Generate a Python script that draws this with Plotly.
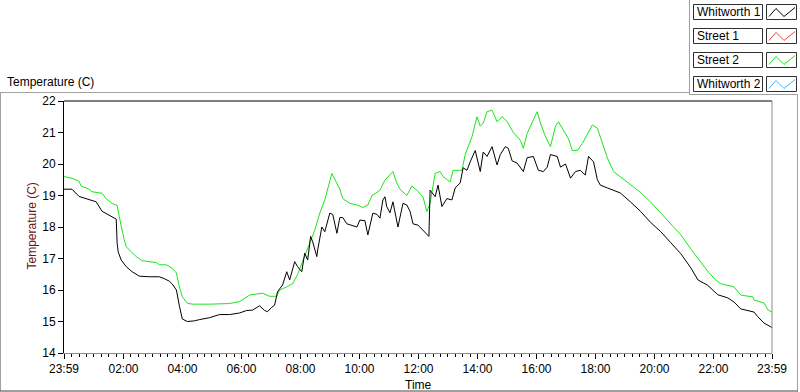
import plotly.graph_objects as go

# ---------------- data (hours elapsed since 23:59 of previous day) ----------------
whitworth1_time_h = [0.00, 0.27, 0.51, 0.85, 1.09, 1.29, 1.53, 1.70, 1.77, 1.80, 1.84, 1.94, 2.11, 2.31, 2.55,
                     2.89, 3.23, 3.40, 3.57, 3.67, 3.81, 3.91, 4.01, 4.18, 4.42, 4.59, 4.93, 5.27, 5.61, 5.95,
                     6.19, 6.39, 6.63, 6.80, 6.90, 7.04, 7.14, 7.24, 7.41, 7.55, 7.65, 7.82, 7.92, 8.06, 8.16,
                     8.26, 8.36, 8.43, 8.57, 8.60, 8.74, 8.84, 9.01, 9.11, 9.25, 9.35, 9.45, 9.59, 9.76, 9.93,
                     10.03, 10.20, 10.30, 10.47, 10.61, 10.71, 10.81, 10.88, 10.94, 11.05, 11.15, 11.32, 11.49,
                     11.62, 11.73, 11.83, 12.00, 12.17, 12.30, 12.37, 12.41, 12.58, 12.68, 12.81, 12.98, 13.15,
                     13.26, 13.43, 13.53, 13.66, 13.77, 13.94, 14.11, 14.21, 14.34, 14.51, 14.68, 14.79, 14.96,
                     15.06, 15.19, 15.36, 15.57, 15.70, 15.91, 16.08, 16.25, 16.38, 16.49, 16.72, 16.83, 17.00,
                     17.17, 17.34, 17.50, 17.67, 17.78, 17.95, 18.08, 18.18, 18.42, 18.63, 18.86, 19.20, 19.54,
                     19.88, 20.23, 20.57, 20.91, 21.25, 21.49, 21.82, 22.16, 22.50, 22.71, 22.94, 23.39, 23.52,
                     23.73, 23.96, 24.00]
whitworth1_temp = [19.20, 19.20, 18.97, 18.87, 18.80, 18.50, 18.38, 18.27, 18.25, 17.50, 17.20, 16.95, 16.74, 16.58, 16.44,
                   16.42, 16.42, 16.36, 16.28, 16.19, 16.00, 15.50, 15.08, 15.00, 15.02, 15.06, 15.12, 15.22, 15.22, 15.27,
                   15.35, 15.36, 15.50, 15.35, 15.31, 15.45, 15.52, 15.95, 16.16, 16.58, 16.32, 16.90, 16.74, 16.58, 17.17,
                   16.95, 17.70, 17.53, 17.06, 17.27, 18.00, 17.85, 18.44, 18.40, 17.80, 18.30, 18.30, 18.10, 18.05, 18.00,
                   18.22, 18.20, 17.75, 18.44, 18.40, 18.28, 18.86, 18.96, 18.65, 18.45, 18.80, 18.00, 18.75,
                   18.70, 18.50, 18.10, 18.06, 17.90, 17.75, 17.70, 19.17, 18.96, 19.33, 18.65, 18.90, 18.86,
                   19.24, 19.40, 19.88, 19.80, 20.07, 20.43, 19.76, 20.38, 20.24, 20.55, 19.97, 20.30, 20.55,
                   20.50, 20.10, 20.03, 19.76, 20.20, 20.24, 19.80, 19.76, 19.90, 20.30, 20.24, 19.90, 20.00,
                   19.55, 19.76, 19.80, 19.65, 20.24, 20.07, 19.50, 19.33, 19.24, 19.17, 19.08, 18.80, 18.50,
                   18.15, 17.85, 17.50, 17.15, 16.70, 16.32, 16.15, 15.85, 15.75, 15.62, 15.40, 15.30, 15.15,
                   14.95, 14.83, 14.80]

street2_time_h = [0.00, 0.27, 0.51, 0.58, 0.85, 0.95, 1.29, 1.43, 1.63, 1.80, 1.87, 1.94, 2.04, 2.11, 2.21,
                  2.45, 2.65, 2.89, 3.13, 3.23, 3.47, 3.67, 3.81, 3.91, 4.01, 4.18, 4.35, 4.93, 5.61, 5.95,
                  6.29, 6.73, 6.97, 7.21, 7.31, 7.55, 7.75, 7.92, 8.09, 8.33, 8.50, 8.67, 8.84, 9.08, 9.25,
                  9.35, 9.45, 9.69, 9.93, 10.13, 10.30, 10.44, 10.61, 10.71, 10.88, 11.15, 11.28, 11.39, 11.62,
                  11.79, 11.96, 12.17, 12.30, 12.41, 12.58, 12.75, 12.85, 13.09, 13.19, 13.49, 13.60, 13.83,
                  14.00, 14.11, 14.21, 14.34, 14.51, 14.68, 14.85, 15.02, 15.23, 15.47, 15.57, 15.70, 15.91,
                  16.04, 16.15, 16.32, 16.49, 16.66, 16.76, 16.93, 17.10, 17.23, 17.40, 17.57, 17.74, 17.91,
                  18.08, 18.18, 18.42, 18.63, 18.86, 19.20, 19.54, 19.88, 20.23, 20.57, 20.91, 21.25, 21.59,
                  21.86, 22.09, 22.26, 22.71, 22.94, 23.35, 23.39, 23.73, 23.86, 24.00]
street2_temp = [19.60, 19.55, 19.45, 19.30, 19.20, 19.12, 19.07, 18.90, 18.75, 18.68, 18.34, 18.00, 17.60, 17.37, 17.27,
                17.06, 16.93, 16.90, 16.87, 16.80, 16.80, 16.69, 16.54, 16.10, 15.79, 15.58, 15.55, 15.55, 15.57, 15.63,
                15.84, 15.90, 15.80, 15.80, 16.00, 16.10, 16.20, 16.50, 16.90, 17.50, 17.90, 18.44, 18.86, 19.70, 19.40,
                19.20, 18.90, 18.75, 18.70, 18.62, 18.70, 19.00, 19.10, 19.17, 19.49, 19.76, 19.40, 19.20, 19.00,
                19.30, 19.17, 18.95, 18.49, 18.75, 19.70, 19.76, 19.60, 19.43, 19.80, 19.80, 20.30, 20.87,
                21.50, 21.20, 21.30, 21.66, 21.71, 21.34, 21.50, 21.35, 21.00, 20.75, 20.50, 20.97, 21.40,
                21.66, 21.30, 20.87, 20.55, 21.20, 21.34, 21.08, 20.80, 20.43, 20.43, 20.65, 20.97, 21.24,
                21.14, 20.87, 20.19, 19.76, 19.60, 19.35, 19.10, 18.80, 18.45, 18.10, 17.75, 17.30, 16.90,
                16.55, 16.32, 16.20, 16.10, 15.84, 15.78, 15.68, 15.59, 15.37, 15.30]

x_tick_vals = [0, 2 + 1/60, 4 + 1/60, 6 + 1/60, 8 + 1/60, 10 + 1/60, 12 + 1/60, 14 + 1/60,
               16 + 1/60, 18 + 1/60, 20 + 1/60, 22 + 1/60, 24]
x_tick_text = ["23:59", "02:00", "04:00", "06:00", "08:00", "10:00", "12:00", "14:00",
               "16:00", "18:00", "20:00", "22:00", "23:59"]
y_tick_vals = [14, 15, 16, 17, 18, 19, 20, 21, 22]

legend_names = ["Whitworth 1", "Street 1", "Street 2", "Whitworth 2"]
legend_colors = ["#000000", "#ff3c3c", "#19e619", "#3cb4ff"]

# ---------------- layout helpers ----------------
W, H = 800, 392
L, R, T, B = 64, 772, 101, 353
FONT = "Liberation Sans"


def px(x):
    return (x - L) / (R - L)


def py(y):
    return (B - y) / (B - T)


fig = go.Figure()
fig.add_trace(go.Scatter(x=street2_time_h, y=street2_temp, mode="lines", name=legend_names[2],
                         line=dict(color=legend_colors[2], width=1)))
fig.add_trace(go.Scatter(x=whitworth1_time_h, y=whitworth1_temp, mode="lines", name=legend_names[0],
                         line=dict(color=legend_colors[0], width=1)))

shapes = []
# plot frame: top black, right gray
shapes.append(dict(type="line", xref="paper", yref="paper", x0=0, x1=1, y0=1, y1=1,
                   line=dict(color="#000000", width=1)))
shapes.append(dict(type="line", xref="paper", yref="paper", x0=1, x1=1, y0=0, y1=1,
                   line=dict(color="#8c8c8c", width=1)))
# outer frame
gray = "#a0a0a0"
shapes.append(dict(type="line", xref="paper", yref="paper", x0=px(0.5), x1=px(0.5), y0=py(92.5), y1=py(391),
                   line=dict(color=gray, width=1)))
shapes.append(dict(type="line", xref="paper", yref="paper", x0=px(0), x1=px(689.5), y0=py(92.5), y1=py(92.5),
                   line=dict(color=gray, width=1)))
shapes.append(dict(type="line", xref="paper", yref="paper", x0=px(689.5), x1=px(689.5), y0=py(0), y1=py(94.5),
                   line=dict(color=gray, width=1)))
shapes.append(dict(type="line", xref="paper", yref="paper", x0=px(689.5), x1=px(797.5), y0=py(94.5), y1=py(94.5),
                   line=dict(color=gray, width=1)))
shapes.append(dict(type="line", xref="paper", yref="paper", x0=px(797.5), x1=px(797.5), y0=py(94.5), y1=py(391),
                   line=dict(color=gray, width=1)))
shapes.append(dict(type="line", xref="paper", yref="paper", x0=px(0), x1=px(798), y0=py(391), y1=py(391),
                   line=dict(color="#404040", width=1)))

annotations = []
row_tops = [4.5, 28.5, 52.5, 76.5]
for name, color, top in zip(legend_names, legend_colors, row_tops):
    bot = top + 15
    shapes.append(dict(type="rect", xref="paper", yref="paper", x0=px(693.5), x1=px(762.5), y0=py(bot), y1=py(top),
                       line=dict(color="#303030", width=1), fillcolor="white"))
    shapes.append(dict(type="rect", xref="paper", yref="paper", x0=px(766.5), x1=px(796.5), y0=py(bot), y1=py(top),
                       line=dict(color="#303030", width=1), fillcolor="white"))
    path = "M {:.5f},{:.5f} L {:.5f},{:.5f} L {:.5f},{:.5f} L {:.5f},{:.5f}".format(
        px(769), py(top + 12), px(776), py(top + 4), px(784), py(top + 12), px(795), py(top + 3))
    shapes.append(dict(type="path", xref="paper", yref="paper", path=path,
                       line=dict(color=color, width=1)))
    annotations.append(dict(xref="paper", yref="paper", x=px(695), y=py(top + 7.5), text=name,
                            showarrow=False, xanchor="left", yanchor="middle",
                            font=dict(family=FONT, size=12, color="#000000")))

annotations.append(dict(xref="paper", yref="paper", x=px(5), y=py(82), text="Temperature (C)",
                        showarrow=False, xanchor="left", yanchor="middle",
                        font=dict(family=FONT, size=12, color="#000000")))
annotations.append(dict(xref="paper", yref="paper", x=px(31.5), y=py(226), text="Temperature (C)",
                        textangle=-90, showarrow=False, xanchor="center", yanchor="middle",
                        font=dict(family=FONT, size=12, color="#6a1414")))
annotations.append(dict(xref="paper", yref="paper", x=0.5, y=py(385), text="Time",
                        showarrow=False, xanchor="center", yanchor="middle",
                        font=dict(family=FONT, size=12, color="#000000")))

fig.update_layout(
    width=W, height=H,
    margin=dict(l=L, r=W - R, t=T, b=H - B, pad=0),
    paper_bgcolor="white", plot_bgcolor="white",
    showlegend=False,
    shapes=shapes, annotations=annotations,
    font=dict(family=FONT, size=12, color="#000000"),
)
fig.update_xaxes(range=[0, 24], tickvals=x_tick_vals, ticktext=x_tick_text,
                 showgrid=False, zeroline=False, showline=True, linecolor="#8c8c8c", linewidth=1,
                 ticks="outside", ticklen=5, tickcolor="#000000", tickwidth=1,
                 minor=dict(ticks="outside", ticklen=3, tick0=1/60, dtick=0.25, tickcolor="#000000",
                            showgrid=False),
                 tickfont=dict(family=FONT, size=12, color="#000000"))
fig.update_yaxes(range=[14, 22], tickvals=y_tick_vals,
                 showgrid=False, zeroline=False, showline=True, linecolor="#000000", linewidth=1,
                 ticks="outside", ticklen=5, tickcolor="#000000", tickwidth=1,
                 tickfont=dict(family=FONT, size=12, color="#000000"))

fig.write_html("out.html", config={"displayModeBar": False},
               post_script="document.body.style.margin='0';")
